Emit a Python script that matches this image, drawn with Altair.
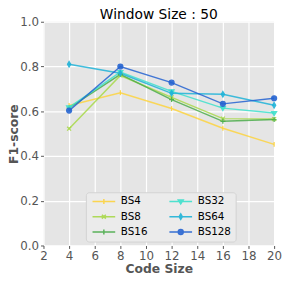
import altair as alt
import pandas as pd

code_sizes = [4, 8, 12, 16, 20]
series_names = ["BS4", "BS8", "BS16", "BS32", "BS64", "BS128"]
bs4 = [0.626, 0.683, 0.612, 0.524, 0.452]
bs8 = [0.522, 0.760, 0.662, 0.567, 0.565]
bs16 = [0.615, 0.765, 0.652, 0.555, 0.563]
bs32 = [0.617, 0.775, 0.689, 0.614, 0.592]
bs64 = [0.810, 0.770, 0.680, 0.676, 0.627]
bs128 = [0.603, 0.800, 0.728, 0.633, 0.658]
values = [bs4, bs8, bs16, bs32, bs64, bs128]
x_ticks = [2, 4, 6, 8, 10, 12, 14, 16, 18, 20]
y_ticks = [0.0, 0.2, 0.4, 0.6, 0.8, 1.0]

colors = ["#fdd33f", "#a8d94a", "#4cad4c", "#3ee0cc", "#1fb3d8", "#2463d1"]
marker_paths = [
    "M0,-1V1",
    "M-0.8,-0.8L0.8,0.8M-0.8,0.8L0.8,-0.8",
    "M-1,0H1M0,-1V1",
    "M-1,-0.6L1,-0.6L0,1Z",
    "M0,-1.1L0.65,0L0,1.1L-0.65,0Z",
    "M-1,0A1,1,0,1,0,1,0A1,1,0,1,0,-1,0Z",
]
legend_paths = ["M-4.6,0H4.6" + p for p in marker_paths]

rows = []
for name, vals in zip(series_names, values):
    for c, v in zip(code_sizes, vals):
        rows.append({"series": name, "code": c, "f1": v})
df = pd.DataFrame(rows)

col_scale = alt.Scale(domain=series_names, range=colors)
shape_scale = alt.Scale(domain=series_names, range=legend_paths)

leg = alt.Legend(title=None, orient="none", legendX=43, legendY=173, columns=2,
                 symbolSize=25, symbolStrokeWidth=1.5, symbolOffset=9,
                 labelOffset=12, labelFontSize=10.5, labelFont="DejaVu Sans",
                 labelColor="#000000", rowPadding=3.5, columnPadding=18,
                 padding=4, fillColor="#ebebeb", strokeColor="#d2d2d2",
                 cornerRadius=3)

x_enc = alt.X("code:Q", scale=alt.Scale(domain=[2, 20], nice=False),
              axis=alt.Axis(values=x_ticks, title="Code Size", labelFlush=False,
                            labelOverlap=False, titlePadding=1))
y_enc = alt.Y("f1:Q", scale=alt.Scale(domain=[0, 1], nice=False),
              axis=alt.Axis(values=y_ticks, format=".1f", labelFlush=False,
                            title="F1-score", labelOverlap=False, titlePadding=-1))

base = alt.Chart(df)

legend_layer = base.transform_filter("false").mark_point(
    filled=True, size=25, opacity=0.9
).encode(
    x=x_enc, y=y_enc,
    fill=alt.Fill("series:N", scale=col_scale, legend=leg),
    stroke=alt.Stroke("series:N", scale=col_scale, legend=leg),
    shape=alt.Shape("series:N", scale=shape_scale, legend=leg),
)

lines = base.mark_line(strokeWidth=1.5, opacity=0.85).encode(
    x=x_enc, y=y_enc,
    stroke=alt.Stroke("series:N", scale=col_scale, legend=leg),
    detail="series:N",
)

layers = [legend_layer, lines]
for name, path in zip(series_names, marker_paths):
    layers.append(
        base.transform_filter(alt.datum.series == name).mark_point(
            shape=path, filled=True, size=25, strokeWidth=1.3, opacity=0.9
        ).encode(
            x=x_enc, y=y_enc,
            fill=alt.Fill("series:N", scale=col_scale, legend=leg),
            stroke=alt.Stroke("series:N", scale=col_scale, legend=leg),
        )
    )

chart = alt.layer(*layers).properties(
    width=234, height=227,
    title=alt.TitleParams("Window Size : 50", fontSize=14, font="DejaVu Sans",
                          fontWeight="normal", color="#000000", offset=-17.5,
                          baseline="alphabetic"),
    autosize=alt.AutoSizeParams(type="none"),
    padding={"left": 36, "top": 12, "right": 9, "bottom": 29},
).configure_view(
    fill="#e5e5e5", stroke=None
).configure_axis(
    grid=True, gridColor="#ffffff", gridWidth=1.2, domain=False,
    tickSize=3, tickColor="#555555", tickWidth=1,
    labelFont="DejaVu Sans", labelFontSize=12, labelColor="#555555", labelPadding=2,
    titleFont="DejaVu Sans", titleFontSize=12.5, titleFontWeight="bold", titleColor="#555555",
)

chart.save("out.html", embed_options={"renderer": "svg", "actions": False})
